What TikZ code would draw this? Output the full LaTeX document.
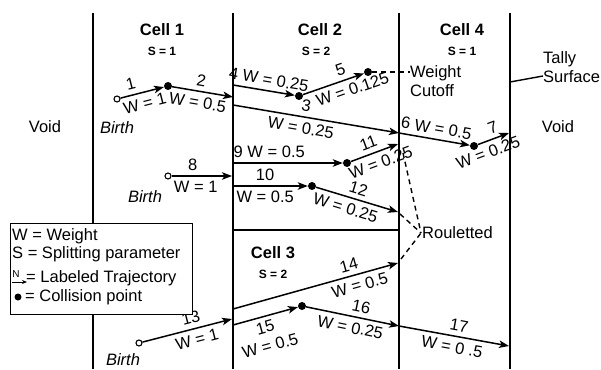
\documentclass[tikz,border=0pt]{standalone}
\usepackage{fontspec}
\setmainfont{Liberation Sans}
\usetikzlibrary{arrows.meta}
\begin{document}
\begin{tikzpicture}[x=1pt,y=-1pt,
  every node/.style={font=\fontsize{16.5}{19}\selectfont, inner sep=1pt},
  wall/.style={line width=1.8pt},
  traj/.style={line width=1.5pt, -{Stealth[length=10pt,width=7.5pt,inset=2.5pt]}},
  dsh/.style={line width=1.4pt, dash pattern=on 5pt off 4pt},
  col/.style={circle, fill=black, inner sep=0pt, minimum size=8pt},
  birth/.style={circle, draw, fill=white, line width=1.1pt, inner sep=0pt, minimum size=6pt},
  lab/.style={font=\fontsize{16.5}{19}\selectfont, sloped, inner sep=4.5pt},
  cellt/.style={font=\bfseries\fontsize{16.5}{19}\selectfont},
  splt/.style={font=\bfseries\fontsize{12}{14}\selectfont},
  birthlab/.style={font=\itshape\fontsize{16.5}{19}\selectfont},
]
\useasboundingbox (0,0) rectangle (601,369);

% walls
\coordinate (A1) at (93,13);  \coordinate (A2) at (93,369);
\coordinate (B1) at (233,13); \coordinate (B2) at (233,369);
\coordinate (C1) at (399,13); \coordinate (C2) at (399,369);
\coordinate (D1) at (510,13); \coordinate (D2) at (510,369);
\coordinate (H1) at (233,230); \coordinate (H2) at (399,230);
\draw[wall] (A1) -- (A2);
\draw[wall] (B1) -- (B2);
\draw[wall] (C1) -- (C2);
\draw[wall] (D1) -- (D2);
\draw[wall] (H1) -- (H2);

% cell titles
\node[cellt] (cell1) at (162,30) {Cell 1};
\node[splt] (s1) at (162,51) {S = 1};
\node[cellt] (cell2) at (320,30) {Cell 2};
\node[splt] (s2) at (316,51) {S = 2};
\node[cellt] (cell4) at (462,30) {Cell 4};
\node[splt] (s4) at (462,51) {S = 1};
\node[cellt] (cell3) at (273,253) {Cell 3};
\node[splt] (s3) at (273,274) {S = 2};

\node (v1) at (45,127) {Void};
\node (v2) at (558,127) {Void};

% tally surface
\node[anchor=west, align=left] (ts) at (542,67) {Tally\\Surface};
\coordinate (tw) at (510,82);
\coordinate (tsl) at (543,76);
\draw[line width=1.4pt] (tw) -- (tsl);

% points
\node[birth] (b1) at (117,99) {};
\node[col] (c1) at (168,86) {};
\coordinate (p2) at (233,97);
\coordinate (p4) at (233,85);
\node[col] (c4) at (299,96) {};
\node[col] (c5) at (368,72) {};
\coordinate (p3) at (233,105);
\coordinate (e3) at (399,133);
\node[col] (c6) at (474,146) {};
\coordinate (e7) at (509,133);
\node[birth] (b8) at (168,176) {};
\coordinate (e8) at (232,176);
\coordinate (s9) at (233,163);
\node[col] (c9) at (347,163) {};
\coordinate (e11) at (398,144);
\coordinate (s10) at (233,186);
\node[col] (c10) at (312,186) {};
\coordinate (e12) at (398,212);
\node[birth] (b13) at (139,343) {};
\coordinate (e13) at (232,319);
\coordinate (s14) at (233,309);
\coordinate (e14) at (398,263);
\coordinate (s15) at (233,325);
\node[col] (c15) at (302,306) {};
\coordinate (e16) at (399,326);
\coordinate (e17) at (509,346);

\node[birthlab] (bl1) at (117,128) {Birth};
\node[birthlab] (bl8) at (145,197) {Birth};
\node[birthlab] (bl13) at (123,360) {Birth};

% trajectories
\draw[traj] (b1) -- node[lab,above,pos=.3]{1} node[lab,below,pos=.5]{W = 1} (c1);
\draw[traj] (c1) -- node[lab,above,pos=.45]{2} node[lab,below,pos=.45]{W = 0.5} (p2);
\draw[traj] (p4) -- node[lab,above,pos=.55]{4 W = 0.25} (c4);
\draw[traj] (p3) -- node[lab,above,pos=.43]{3} node[lab,below,pos=.42]{W = 0.25} (e3);
\draw[traj] (c4) -- node[lab,above,pos=.67]{5} node[lab,below,pos=.75]{W = 0.125} (c5);
\draw[traj] (e3) -- node[lab,above,pos=.5]{6 W = 0.5} (c6);
\draw[traj] (c6) -- node[lab,above,pos=.6]{7} node[lab,below,pos=.2]{W = 0.25} (e7);
\draw[traj] (b8) -- node[lab,above,pos=.35]{8} node[lab,below,pos=.4]{W = 1} (e8);
\draw[traj] (s9) -- node[lab,above,pos=.33]{9 W = 0.5} (c9);
\draw[traj] (c9) -- node[lab,above,pos=.45]{11} node[lab,below,pos=.55]{W = 0.25} (e11);
\draw[traj] (s10) -- node[lab,above,pos=.43]{10} node[lab,below,pos=.43]{W = 0.5} (c10);
\draw[traj] (c10) -- node[lab,above,pos=.48]{12} node[lab,below,pos=.4]{W = 0.25} (e12);
\draw[traj] (b13) -- node[lab,above,pos=.57]{13} node[lab,below,pos=.58]{W = 1} (e13);
\draw[traj] (s14) -- node[lab,above,pos=.72]{14} node[lab,below,pos=.75]{W = 0.5} (e14);
\draw[traj] (s15) -- node[lab,below,pos=.45,align=center]{15\\W = 0.5} (c15);
\draw[traj] (c15) -- node[lab,above,pos=.57]{16} node[lab,below,pos=.5]{W = 0.25} (e16);
\draw[traj] (e16) -- node[lab,above,pos=.53]{17} node[lab,below,pos=.5]{W = 0 .5} (e17);

% weight cutoff
\node[anchor=west, align=left] (wc) at (409,81) {Weight\\Cutoff};
\coordinate (wcd) at (410,72);
\draw[dsh] (c5) -- (wcd);

% rouletted
\node[anchor=west] (rl) at (421,233) {Rouletted};
\coordinate (d11) at (403,153);
\coordinate (d12) at (400,214);
\coordinate (d14) at (401,259);
\draw[dsh] (d11) -- (rl.west);
\draw[dsh] (d12) -- (rl.west);
\draw[dsh] (d14) -- (rl.west);

% legend
\node[draw, fill=white, line width=1pt, minimum width=182pt, minimum height=91pt, inner sep=0pt] (leg) at (101,268.5) {};
\node[anchor=west] (l1) at (11,236) {W = Weight};
\node[anchor=west] (l2) at (11,254) {S = Splitting parameter};
\node[font=\fontsize{10}{10}\selectfont, inner sep=0pt] (lN) at (16,274) {N};
\coordinate (la1) at (12,282);
\coordinate (la2) at (27,282);
\draw[line width=0.8pt, -{Stealth[length=5pt,width=4pt]}] (la1) -- (la2);
\node[anchor=west] (l3) at (25,278) {= Labeled Trajectory};
\node[col, minimum size=7pt] (ld) at (18,297) {};
\node[anchor=west] (l4) at (24,297) {= Collision point};
\end{tikzpicture}
\end{document}
